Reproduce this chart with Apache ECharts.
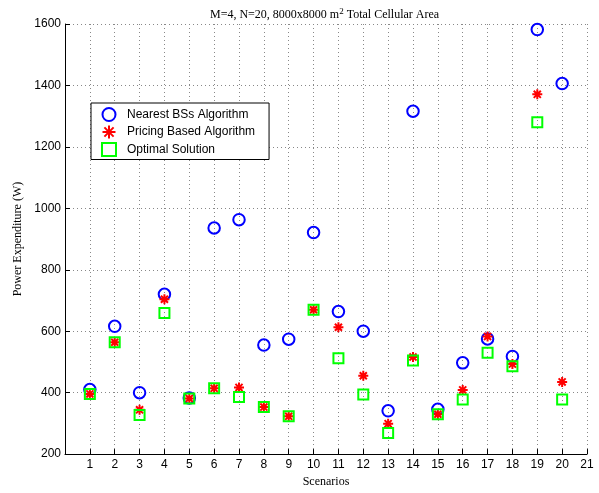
<!DOCTYPE html>
<html>
<head>
<meta charset="utf-8">
<script src="https://cdn.jsdelivr.net/npm/echarts@6/dist/echarts.min.js"></script>
<style>html,body{margin:0;padding:0;background:#fff;}#c{width:599px;height:493px;}</style>
</head>
<body>
<div id="c"></div>
<script>
const scenarios = [1,2,3,4,5,6,7,8,9,10,11,12,13,14,15,16,17,18,19,20];
const nearestBS = [410, 616, 400, 720, 383, 936, 963, 555, 574, 921, 664, 600, 341, 1316, 346, 497, 575, 518, 1582, 1406];
const pricingBased = [396, 564, 344, 704, 381, 414, 417, 353, 323, 670, 613, 455, 299, 516, 330, 409, 583, 493, 1371, 435];
const optimal = [396, 564, 327, 659, 381, 414, 386, 353, 323, 670, 512, 394, 269, 505, 330, 378, 530, 486, 1280, 378];
const seriesNames = ['Nearest BSs Algorithm', 'Pricing Based Algorithm', 'Optimal Solution'];

const pts = arr => scenarios.map((s, i) => [s, arr[i]]);
const serif = '"Liberation Serif","Times New Roman",serif';
const sans = '"Liberation Sans",Arial,Helvetica,sans-serif';
const asterisk = 'path://M0,-10L0,10M-10,0L10,0M-7.07,-7.07L7.07,7.07M-7.07,7.07L7.07,-7.07';

const chart = echarts.init(document.getElementById('c'), null, {renderer: 'canvas'});
chart.setOption({
  animation: false,
  backgroundColor: '#fff',
  title: {
    text: 'M=4, N=20, 8000x8000 m{sup|2} Total Cellular Area',
    left: 205, top: 2,
    textStyle: {
      fontFamily: serif, fontSize: 12, fontWeight: 'normal', color: '#000',
      rich: { sup: { fontFamily: serif, fontSize: 9, verticalAlign: 'top', padding: [0, 0, 6, 0], color: '#000' } }
    }
  },
  grid: { left: 65, right: 12, top: 24, bottom: 35, containLabel: false },
  legend: {
    orient: 'vertical', left: 91, top: 103,
    backgroundColor: '#fff', borderColor: '#000', borderWidth: 1,
    padding: [4, 14, 2.5, 10], itemGap: 2.5, itemWidth: 14, itemHeight: 13,
    textStyle: { fontFamily: sans, fontSize: 12, color: '#000', lineHeight: 13, padding: [0, 0, 0, 6] },
    data: seriesNames
  },
  xAxis: {
    type: 'value', min: 0, max: 21, interval: 1,
    name: 'Scenarios', nameLocation: 'middle', nameGap: 19,
    nameTextStyle: { fontFamily: serif, fontSize: 12, color: '#000' },
    axisLine: { lineStyle: { color: '#000', width: 1 } },
    axisTick: { inside: true, length: 5, lineStyle: { color: '#000' } },
    axisLabel: { fontFamily: sans, fontSize: 12, color: '#000', margin: 5,
      formatter: v => v === 0 ? '' : String(v) },
    splitLine: { show: true, lineStyle: { color: '#888', type: [1, 3], width: 1 } }
  },
  yAxis: {
    type: 'value', min: 200, max: 1600, interval: 200,
    name: 'Power Expenditure (W)', nameLocation: 'middle', nameGap: 35,
    nameTextStyle: { fontFamily: serif, fontSize: 12, color: '#000' },
    axisLine: { show: true, lineStyle: { color: '#000', width: 1 } },
    axisTick: { show: true, inside: true, length: 5, lineStyle: { color: '#000' } },
    axisLabel: { fontFamily: sans, fontSize: 12, color: '#000', margin: 4, formatter: v => String(v) },
    splitLine: { show: true, lineStyle: { color: '#888', type: [1, 3], width: 1 } }
  },
  series: [
    { name: seriesNames[0], type: 'scatter', data: pts(nearestBS), symbol: 'circle', symbolSize: 11.5,
      itemStyle: { color: 'rgba(0,0,0,0)', borderColor: '#0000ff', borderWidth: 2, opacity: 1 } },
    { name: seriesNames[1], type: 'scatter', data: pts(pricingBased), symbol: asterisk, symbolSize: 10,
      itemStyle: { color: 'rgba(0,0,0,0)', borderColor: '#ff0000', borderWidth: 2, opacity: 1 } },
    { name: seriesNames[2], type: 'scatter', data: pts(optimal), symbol: 'rect', symbolSize: 10,
      itemStyle: { color: 'rgba(0,0,0,0)', borderColor: '#00ff00', borderWidth: 2, opacity: 1 } }
  ]
});
</script>
</body>
</html>
